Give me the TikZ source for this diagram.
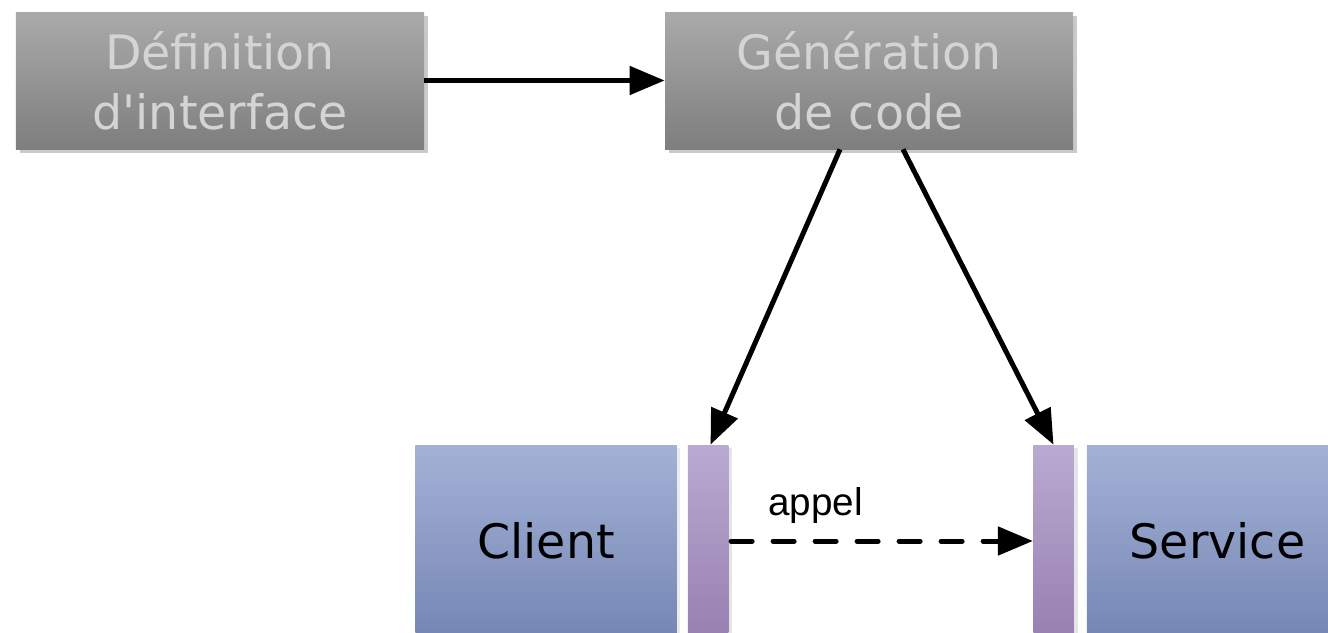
\documentclass[tikz,border=0pt]{standalone}
\usepackage{fontspec}
\setmainfont{DejaVu Sans}
\newfontfamily\boxfont{DejaVu Sans}
\newfontfamily\labelfont{Liberation Sans}
\usepackage{xcolor}
\definecolor{idlgraytop}{RGB}{170,170,170}
\definecolor{idlgraybot}{RGB}{126,126,126}
\definecolor{idlgraytext}{RGB}{212,212,212}
\definecolor{idlbluetop}{RGB}{162,178,214}
\definecolor{idlbluebot}{RGB}{118,134,180}
\definecolor{idlpurptop}{RGB}{186,170,210}
\definecolor{idlpurpbot}{RGB}{152,128,176}
\usetikzlibrary{arrows.meta,positioning,shadows}

\begin{document}
\begin{tikzpicture}[
  idlbox/.style={rectangle,minimum width=8.16cm,minimum height=2.74cm,align=center,
    shading=axis,top color=idlgraytop,bottom color=idlgraybot,text=idlgraytext,
    font=\boxfont\fontsize{27}{34}\selectfont,inner sep=0pt,
    drop shadow={shadow xshift=0.08cm,shadow yshift=-0.08cm,opacity=0.35,fill=black!60}},
  idlapp/.style={rectangle,minimum width=5.23cm,minimum height=3.84cm,
    shading=axis,top color=idlbluetop,bottom color=idlbluebot,text=black,
    font=\boxfont\fontsize{27}{34}\selectfont,inner sep=0pt,
    drop shadow={shadow xshift=0.06cm,shadow yshift=-0.06cm,opacity=0.2,fill=black!40}},
  idlstub/.style={rectangle,minimum width=0.81cm,minimum height=3.84cm,inner sep=0pt,
    shading=axis,top color=idlpurptop,bottom color=idlpurpbot,
    drop shadow={shadow xshift=0.08cm,shadow yshift=-0.06cm,opacity=0.25,fill=black!40}},
  idlflow/.style={-{Triangle[length=0.7cm,width=0.56cm]},line width=0.1cm,black},
  idlcall/.style={idlflow,line cap=round,dash pattern=on 0.42cm off 0.42cm}
]
  \useasboundingbox (0,0) rectangle (26.56,-12.64);
  \clip (0,0) rectangle (26.56,-12.64);
  % IDL side
  \node[idlbox] (def) at (4.40,-1.61) {Définition\\d'interface};
  \node[idlbox] (gen) at (17.38,-1.61) {Génération\\de code};
  % client / service with their stubs
  \node[idlapp] (client) at (10.92,-10.82) {Client};
  \node[idlstub] (cstub) at (14.16,-10.82) {};
  \node[idlstub] (sstub) at (21.07,-10.82) {};
  \node[idlapp] (service) at (24.35,-10.82) {Service};
  % arrows
  \draw[idlflow] (def.east) -- (gen.west);
  \draw[idlflow] ([xshift=-0.58cm]gen.south) -- ([xshift=0.05cm]cstub.north);
  \draw[idlflow] ([xshift=0.68cm]gen.south) -- (sstub.north);
  \draw[idlcall] ([xshift=0.05cm]cstub.east) -- node[pos=0.28,above=0.3cm,inner sep=0pt,
    font=\labelfont\fontsize{22}{26}\selectfont] (appel) {appel} (sstub.west);
\end{tikzpicture}
\end{document}
